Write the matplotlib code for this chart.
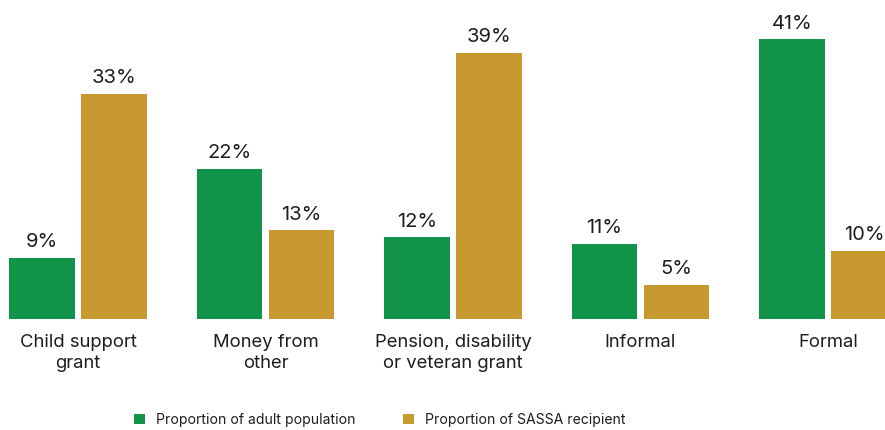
import numpy as np
import matplotlib
matplotlib.use("Agg")
import matplotlib.pyplot as plt

plt.rcParams['font.family'] = ['Inter', 'DejaVu Sans']

categories = ["Child support\ngrant", "Money from\nother", "Pension, disability\nor veteran grant",
              "Informal", "Formal"]
adult_pop = [9, 22, 12, 11, 41]
sassa = [33, 13, 39, 5, 10]
series_names = ["Proportion of adult population", "Proportion of SASSA recipient"]

green = "#12934A"
gold = "#C8992F"
txt = "#1e1e1e"

fig = plt.figure(figsize=(8.85, 4.3), dpi=100)
ax = fig.add_axes([0, 111 / 430, 1, 319 / 430])

x = np.arange(len(categories))
w = 0.347
off = (w + 0.037) / 2

b1 = ax.bar(x - off, adult_pop, w, color=green, label=series_names[0])
b2 = ax.bar(x + off, sassa, w, color=gold, label=series_names[1])

# percentage labels over each bar
for bars, vals in ((b1, adult_pop), (b2, sassa)):
    for r, v in zip(bars, vals):
        ax.annotate(f"{v}%", (r.get_x() + r.get_width() / 2, v),
                    xytext=(0, 7.5), textcoords="offset points",
                    ha="center", va="baseline", fontsize=14.5, color=txt)

for xi, lab in zip(x, categories):
    ax.annotate(lab, (xi, 0), xytext=(0, -11), textcoords="offset points",
                ha="center", va="top", fontsize=13.3, color=txt, linespacing=1.3)

ax.set_xlim(-78 / 187.5, (885 - 78) / 187.5)
ax.set_ylim(0, 319 / 6.83)
ax.axis("off")

fig.legend(handles=[b1, b2], loc="center", bbox_to_anchor=(380 / 885, 10 / 430),
           ncol=2, frameon=False, fontsize=10.1, handlelength=0.75, handleheight=0.75,
           handletextpad=0.8, columnspacing=3.4, labelcolor=txt)

fig.savefig("out.png", dpi=100)
